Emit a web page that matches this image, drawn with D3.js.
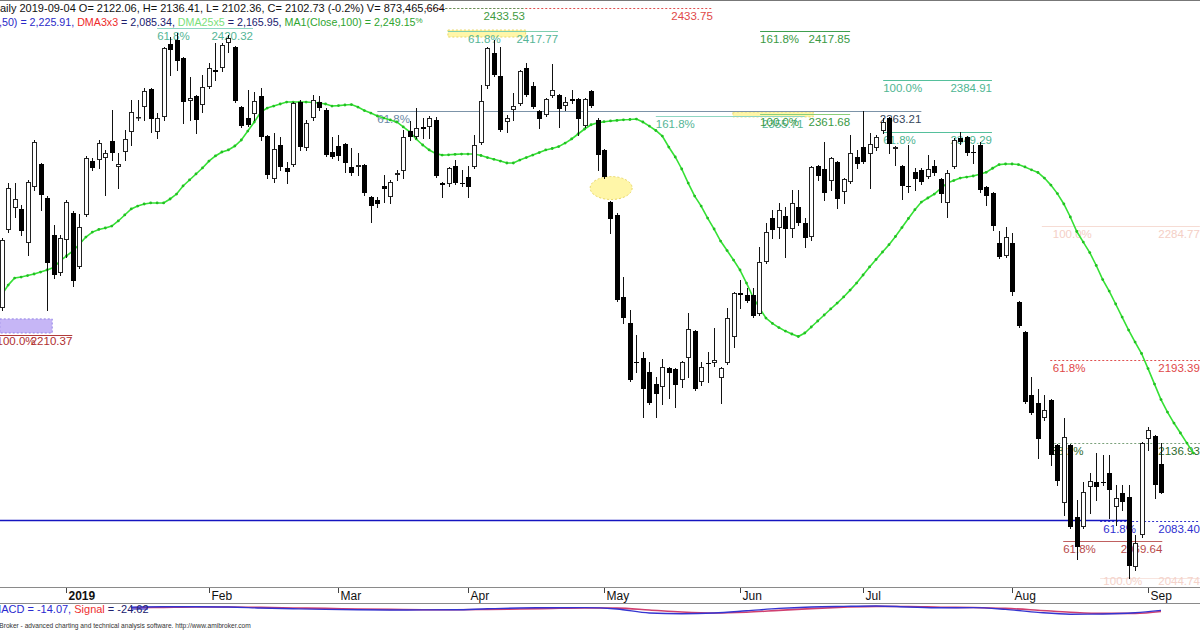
<!DOCTYPE html>
<html><head><meta charset="utf-8">
<script src="https://cdn.jsdelivr.net/npm/d3@7"></script>
<style>
html,body{margin:0;padding:0;background:#fff;overflow:hidden;}
svg{display:block;font-family:"Liberation Sans",Arial,sans-serif;}
</style></head><body>
<svg id="c" width="1200" height="630"></svg>
<script>
// ---------------- DATA ----------------
const opens=[2228.8,2282.1,2297.1,2296.5,2273.3,2311.5,2327.2,2304.0,2278.7,2252.8,
2275.3,2293.7,2256.9,2292.4,2329.2,2329.9,2331.3,2342.9,2325.2,2335.4,
2349.1,2358.6,2366.1,2378.4,2349.1,2359.3,2409.2,2411.9,2399.6,2370.2,
2373.6,2367.5,2379.8,2391.4,2392.8,2409.8,2407.1,2366.1,2358.6,2361.3,
2373.6,2346.3,2317.0,2340.2,2324.5,2326.5,2369.5,2338.1,2358.6,2369.5,
2364.1,2335.4,2339.5,2340.9,2325.2,2325.2,2326.5,2304.7,2302.6,2312.2,
2304.7,2319.7,2322.4,2349.7,2345.6,2352.5,2352.5,2357.3,2314.2,2313.5,
2325.8,2314.2,2318.3,2325.2,2341.5,2380.5,2403.0,2387.3,2355.9,2364.1,
2368.2,2392.8,2380.5,2363.4,2360.7,2373.6,2374.3,2366.8,2371.6,2371.6,
2353.1,2377.0,2357.3,2336.8,2301.2,2292.4,2236.4,2218.6,2192.0,2194.7,
2185.1,2176.9,2174.9,2187.9,2187.2,2179.7,2194.7,2213.1,2178.3,2191.3,
2191.3,2181.0,2191.3,2209.0,2239.1,2237.7,2237.7,2224.7,2260.3,2290.3,
2283.5,2291.7,2282.8,2297.8,2286.9,2277.3,2325.8,2323.8,2315.6,2328.6,
2308.1,2314.9,2332.0,2338.8,2334.0,2338.1,2349.7,2358.6,2337.4,2325.8,
2312.2,2321.7,2323.1,2318.3,2325.8,2317.0,2300.6,2325.2,2345.0,2345.6,
2335.4,2340.2,2311.5,2307.4,2273.2,2264.4,2273.2,2232.9,2212.5,2169.4,
2164.0,2153.7,2166.0,2135.3,2095.7,2135.3,2086.1,2079.3,2106.6,2110.0,
2110.0,2116.2,2092.9,2102.5,2099.8,2052.0,2073.8,2139.4,2141.4,2122.06];
const highs=[2276.6,2314.3,2314.3,2299.2,2316.3,2343.6,2327.9,2305.3,2285.5,2278.7,
2302.6,2295.1,2293.0,2332.7,2331.3,2343.6,2336.8,2364.1,2334.7,2350.4,
2370.9,2370.9,2379.1,2379.1,2362.0,2407.1,2413.9,2416.7,2400.3,2386.6,
2374.3,2388.0,2396.2,2409.8,2409.8,2415.3,2407.8,2366.8,2377.7,2376.4,
2379.1,2347.0,2348.4,2345.6,2328.6,2369.5,2370.9,2357.3,2374.3,2373.6,
2365.4,2345.6,2347.0,2341.5,2338.1,2334.7,2327.2,2305.3,2304.7,2319.7,
2316.3,2323.1,2350.4,2356.6,2365.4,2358.6,2360.0,2359.3,2314.9,2325.2,
2329.9,2323.1,2325.8,2347.0,2381.1,2407.1,2411.9,2407.1,2360.7,2375.7,
2391.4,2396.2,2383.2,2364.1,2372.3,2395.5,2375.0,2373.0,2377.7,2372.3,
2372.3,2377.7,2358.6,2337.4,2301.9,2293.7,2250.0,2227.5,2210.4,2198.8,
2192.0,2181.7,2194.0,2188.5,2187.9,2192.6,2225.4,2213.8,2192.0,2198.8,
2215.2,2188.5,2228.8,2239.8,2248.0,2242.5,2242.5,2270.5,2286.9,2295.8,
2300.6,2297.8,2309.4,2309.4,2290.3,2325.8,2326.5,2342.2,2332.0,2329.2,
2317.6,2347.0,2336.8,2363.2,2348.4,2347.0,2358.6,2359.3,2339.5,2326.5,
2340.2,2324.5,2324.5,2333.3,2329.9,2317.6,2323.1,2345.0,2349.3,2346.3,
2340.2,2342.2,2312.2,2308.1,2281.4,2284.2,2280.1,2233.6,2213.1,2181.7,
2173.5,2169.4,2166.7,2136.0,2153.7,2136.0,2097.7,2110.0,2116.2,2129.8,
2128.5,2128.5,2107.9,2107.9,2107.9,2073.8,2137.3,2147.6,2142.1,2136.41];
const lows=[2227.5,2280.7,2291.0,2278.7,2265.1,2309.4,2295.8,2227.5,2249.3,2251.4,
2263.7,2243.9,2256.2,2291.7,2323.1,2324.5,2306.0,2329.9,2310.8,2329.9,
2340.2,2357.3,2357.3,2349.1,2345.0,2357.3,2388.0,2391.4,2355.2,2357.3,
2348.4,2362.7,2379.1,2384.6,2390.7,2403.7,2369.5,2352.5,2353.1,2357.3,
2343.6,2317.6,2314.9,2323.1,2314.2,2325.8,2336.8,2336.8,2357.3,2364.1,
2332.7,2331.3,2329.9,2321.7,2319.7,2319.7,2306.0,2287.6,2297.8,2301.2,
2300.6,2316.3,2317.6,2343.6,2345.0,2345.0,2345.0,2318.3,2304.7,2312.2,
2313.5,2312.2,2304.7,2324.5,2340.9,2379.1,2387.3,2349.7,2349.1,2357.3,
2367.5,2373.6,2365.4,2351.8,2360.0,2373.0,2352.5,2364.1,2368.9,2347.0,
2352.5,2366.1,2323.1,2317.6,2280.1,2233.6,2218.6,2179.0,2185.1,2154.4,
2163.3,2154.4,2163.3,2167.4,2161.2,2174.9,2181.7,2172.9,2176.2,2178.3,
2189.2,2164.0,2190.6,2202.2,2228.8,2232.9,2222.7,2224.1,2259.6,2276.6,
2276.6,2263.7,2277.3,2285.5,2270.5,2275.3,2316.3,2302.6,2309.4,2297.1,
2300.6,2314.2,2324.5,2327.9,2310.8,2336.8,2348.4,2334.7,2326.5,2303.3,
2308.1,2309.4,2313.5,2317.6,2319.7,2301.2,2291.0,2324.5,2340.9,2333.3,
2327.9,2308.1,2299.2,2282.1,2263.0,2263.7,2237.7,2215.9,2164.0,2156.5,
2126.4,2152.4,2121.6,2108.0,2087.5,2078.6,2057.4,2078.6,2088.8,2097.7,
2108.0,2085.4,2080.6,2090.9,2044.7,2049.9,2072.5,2131.9,2099.1,2102.36];
const closes=[2275.3,2310.8,2303.3,2281.4,2314.9,2342.2,2306.0,2259.6,2251.4,2276.6,
2301.2,2247.3,2284.2,2331.3,2324.5,2341.5,2334.7,2334.7,2327.2,2344.3,
2362.7,2359.3,2377.0,2357.9,2358.6,2406.4,2405.1,2397.5,2369.5,2372.3,
2357.3,2379.8,2392.8,2390.0,2408.5,2413.2,2370.2,2353.1,2353.8,2370.2,
2345.6,2319.7,2337.4,2325.2,2321.7,2368.9,2338.8,2355.2,2370.9,2365.4,
2333.3,2332.0,2332.7,2327.9,2321.0,2326.5,2307.4,2298.5,2299.9,2310.1,
2314.9,2321.0,2345.6,2345.6,2351.8,2351.1,2358.6,2319.0,2312.8,2324.5,
2314.2,2313.5,2311.5,2340.2,2370.2,2406.4,2388.0,2350.4,2358.6,2366.8,
2390.7,2374.3,2366.1,2357.9,2371.6,2377.7,2364.8,2369.5,2370.2,2357.9,
2371.6,2366.8,2333.3,2318.3,2289.6,2234.3,2222.0,2179.7,2191.7,2173.5,
2164.0,2170.1,2188.5,2184.4,2176.2,2192.0,2214.5,2173.5,2188.5,2190.6,
2193.4,2187.9,2222.0,2239.1,2237.7,2233.6,2223.4,2260.3,2280.8,2282.1,
2295.8,2282.8,2300.6,2286.9,2276.6,2325.2,2319.0,2307.4,2331.3,2303.3,
2317.0,2334.7,2327.2,2328.6,2340.9,2345.6,2355.9,2340.9,2338.8,2312.2,
2311.8,2317.0,2314.9,2323.8,2321.0,2306.7,2321.0,2343.6,2342.2,2334.7,
2335.0,2309.4,2305.3,2284.9,2263.7,2277.3,2239.8,2216.6,2164.6,2157.2,
2139.4,2159.2,2128.5,2110.7,2140.7,2079.3,2065.6,2103.2,2110.7,2106.6,
2109.3,2104.6,2099.1,2096.4,2052.6,2068.3,2136.6,2145.6,2107.9,2102.73];
// DMA25x5 (displaced 5 bars forward, so 185 points)
const dma25x5=[2237.7,2244.5,2249.3,2250.0,2251.0,2252.1,2253.4,2254.8,2256.5,2260.9,
2264.4,2267.8,2272.5,2277.3,2280.7,2282.5,2283.5,2284.8,2288.3,2292.4,
2296.5,2298.5,2299.9,2300.6,2300.6,2300.6,2303.3,2306.7,2312.2,2316.3,
2320.4,2324.5,2329.2,2332.7,2335.4,2336.8,2339.5,2343.6,2349.7,2355.9,
2362.7,2365.4,2366.8,2368.2,2369.5,2369.5,2369.5,2369.5,2369.2,2368.9,
2368.2,2366.8,2367.1,2367.5,2367.8,2366.1,2363.7,2362.0,2360.0,2358.6,
2357.3,2355.9,2352.5,2349.1,2344.3,2340.2,2336.8,2334.4,2333.3,2333.5,
2333.8,2334.0,2334.0,2334.0,2333.0,2331.6,2330.4,2329.2,2327.9,2327.9,
2329.9,2331.6,2333.3,2335.0,2336.8,2337.8,2339.1,2341.5,2344.3,2347.7,
2351.1,2354.0,2355.3,2356.1,2356.6,2357.0,2357.4,2357.6,2357.9,2355.9,
2353.1,2350.1,2346.3,2338.8,2332.0,2323.8,2314.2,2305.3,2298.5,2290.3,
2282.8,2274.6,2268.1,2261.6,2254.8,2245.9,2236.4,2228.8,2222.0,2218.3,
2215.5,2213.1,2211.1,2209.4,2211.8,2215.9,2220.0,2224.1,2228.2,2232.2,
2236.4,2241.1,2245.9,2251.4,2256.9,2262.0,2267.1,2272.1,2277.7,2283.8,
2290.0,2296.0,2301.2,2304.0,2306.7,2310.5,2314.2,2315.9,2317.6,2318.3,
2319.0,2320.2,2321.5,2324.3,2326.8,2327.2,2327.2,2326.8,2325.2,2323.2,
2321.4,2317.6,2312.8,2307.0,2299.9,2291.0,2281.1,2273.9,2266.7,2257.9,
2248.3,2240.4,2231.6,2222.7,2213.8,2205.6,2197.8,2187.5,2176.9,2166.3,
2157.8,2150.3,2143.5,2136.6,2129.8];
// month ticks (bar index of first trading day shown)
const tickIdx=[10,32,52,72,93,114,133,156,177];
const tickLabels=["2019","Feb","Mar","Apr","May","Jun","Jul","Aug","Sep"];
// MACD pane (sampled)
const macdIdx=[20,25,30,35,40,45,50,55,60,65,70,75,80,85,90,95,100,105,110,115,120,125,130,135,140,145,150,155,160,165,170,175,179];
const macdVals=[18,22,22,20,10,2,-4,-8,-10,-9,-8,2,10,13,14,0,-40,-48,-40,-18,6,20,26,30,20,12,14,-4,-34,-52,-50,-38,-14.07];
const signalVals=[12,16,20,20,16,10,6,0,-4,-7,-8,-5,0,6,10,9,-10,-30,-40,-32,-14,4,18,26,25,18,15,6,-12,-32,-44,-44,-24.62];
// Fibonacci / drawing tool levels
const levelPrices=[2433.75,2433.53,2420.32,2417.77,2417.85,2384.91,2363.21,2360.2,2361.2,2349.29,2284.77,2193.39,2136.93,2083.40,2069.64,2044.74,2210.37];
const levelFrom=[65.4,68.5,24.0,68.9,117.1,136.1,58.0,101.0,117.1,136.1,160.6,161.9,161.9,169.6,163.9,169.6,-0.3];
const levelTo=[109.8,80.8,38.8,85.9,131.0,152.9,142.0,124.0,131.0,152.9,185,185,185,185,179.2,185,10.9];
const levelPct=["","","61.8%","61.8%","161.8%","100.0%","61.8%","161.8%","100.0%","61.8%","100.0%","61.8%","38.2%","61.8%","61.8%","100.0%","100.0%"];
const levelText=["2433.75","2433.53","2420.32","2417.77","2417.85","2384.91","2363.21","2355.71","2361.68","2349.29","2284.77","2193.39","2136.93","2083.40","2069.64","2044.74","2210.37"];
const supportPrice=2083.9;

// ---------------- DRAW ----------------
const svg=d3.select("#c");
const x=d3.scaleLinear().domain([0,179]).range([1.7,1161]);
const y=d3.scaleLinear().domain([2439.21,2037.64]).range([0,588]);
const price=svg.append("g");

const lvlStyle=[
 {line:"#e05050",dash:"2,2",tc:"#e04848"},
 {line:"#5a9a5a",dash:"2,2",tc:"#3f9a3f"},
 {line:"#8fd6c2",dash:null,tc:"#55b596"},
 {line:"#7fcfb0",dash:null,tc:"#55b596",pctX:72.0},
 {line:"#3f9f4f",dash:null,tc:"#3a9a44"},
 {line:"#55c09c",dash:null,tc:"#4fb592"},
 {line:"#7c93a8",dash:null,tc:"#6a88a6",tc2:"#34465a"},
 {line:"#8fd6c2",dash:null,tc:"#55b596",valX:123.8},
 {line:"#8ccf7a",dash:null,tc:"#3a9a44"},
 {line:"#55c09c",dash:null,tc:"#4fb592"},
 {line:"#f6dcd4",dash:null,tc:"#f4cfc6",pctX:162.3},
 {line:"#e05050",dash:"2,2",tc:"#e04848",pctX:162.3},
 {line:"#7aa07a",dash:"2,2",tc:"#2e6b2e",pctX:162.0},
 {line:"#3333cc",dash:"2,2",tc:"#2f2fd0",pctX:170.1},
 {line:"#c06060",dash:null,tc:"#b84a4a"},
 {line:"#f8e4de",dash:null,tc:"#f4d2ca",pctX:170.1,dy:6},
 {line:"#b03a3a",dash:null,tc:"#b03030",pctX:-0.8,dy:9}
];

// yellow bands / shapes
price.append("rect").attr("x",x(68.9)).attr("y",y(2418.7)).attr("width",x(80.9)-x(68.9)).attr("height",7)
 .attr("fill","#fff6a8").attr("stroke","#e8d76a").attr("stroke-dasharray","2,2");
price.append("rect").attr("x",x(112.9)).attr("y",y(2362.8)).attr("width",x(125.3)-x(112.9)).attr("height",5)
 .attr("fill","#fff6a8").attr("stroke","#e8d76a").attr("stroke-dasharray","2,2");
price.append("ellipse").attr("cx",x(94.1)).attr("cy",y(2310.8)).attr("rx",21).attr("ry",11.5)
 .attr("fill","#fff6a8").attr("stroke","#e8d76a").attr("stroke-dasharray","2,2");
price.append("rect").attr("x",x(-0.3)).attr("y",y(2221.4)).attr("width",x(7.8)-x(-0.3)).attr("height",y(2211.8)-y(2221.4))
 .attr("fill","#c6b6f6").attr("stroke","#9484e6").attr("stroke-dasharray","2,2");

// support line (full width)
price.append("line").attr("x1",0).attr("x2",x(174.2)).attr("y1",Math.round(y(supportPrice))+0.5).attr("y2",Math.round(y(supportPrice))+0.5)
 .attr("stroke","#1414c0").attr("stroke-width",1.3);

levelPrices.forEach((p,i)=>{
  const s=lvlStyle[i];
  const ly=Math.round(y(p))+0.5;
  const dy=s.dy!=null?s.dy:11;
  price.append("line").attr("x1",x(levelFrom[i])).attr("x2",x(levelTo[i])).attr("y1",ly).attr("y2",ly)
    .attr("stroke",s.line).attr("stroke-width",1).attr("stroke-dasharray",s.dash);
  if(levelPct[i]){
    price.append("text").attr("x",x(s.pctX!=null?s.pctX:levelFrom[i])).attr("y",ly+dy)
      .attr("font-size",11.5).attr("fill",s.tc).text(levelPct[i]);
  }
  price.append("text").attr("x",x(s.valX!=null?s.valX:levelTo[i])).attr("y",ly+dy)
    .attr("text-anchor","end").attr("font-size",11.5).attr("fill",s.tc2||s.tc).text(levelText[i]);
});

// moving average line (behind candles)
const maLine=d3.line().x((d,i)=>x(i)).y(d=>y(d));
price.append("path").attr("d",maLine(dma25x5)).attr("fill","none").attr("stroke","#35e035").attr("stroke-width",1.6);
price.append("g").selectAll("circle").data(dma25x5).join("circle")
 .attr("cx",(d,i)=>x(i)).attr("cy",d=>y(d)).attr("r",1.4).attr("fill","#22c022");

// candles
const cg=price.append("g");
closes.forEach((c,i)=>{
  const o=opens[i],h=highs[i],l=lows[i];
  const cx=Math.round(x(i));
  const up=c>=o;
  cg.append("line").attr("x1",cx+0.5).attr("x2",cx+0.5).attr("y1",Math.round(y(h))).attr("y2",Math.round(y(l))+1)
    .attr("stroke","#111").attr("stroke-width",1);
  let t=Math.round(y(Math.max(o,c))), b=Math.round(y(Math.min(o,c)));
  if(b-t<1) b=t+1;
  if(up){
    cg.append("rect").attr("x",cx-1.5).attr("y",t+0.5).attr("width",4).attr("height",Math.max(b-t-1,0.5))
      .attr("fill","#fff").attr("stroke","#222").attr("stroke-width",1);
  } else {
    cg.append("rect").attr("x",cx-2).attr("y",t).attr("width",5).attr("height",b-t).attr("fill","#000");
  }
});

// border top
svg.append("line").attr("x1",0).attr("x2",1200).attr("y1",0.5).attr("y2",0.5).attr("stroke","#777");

// header texts
svg.append("text").attr("x",-8).attr("y",12).attr("font-size",11).attr("fill","#111")
 .text("Daily 2019-09-04 O= 2122.06, H= 2136.41, L= 2102.36, C= 2102.73 (-0.2%) V= 873,465,664");
const h2=svg.append("text").attr("x",-1).attr("y",26).attr("font-size",10.7);
h2.append("tspan").attr("fill","#2a2ac8").text(",50) = 2,225.91, ");
h2.append("tspan").attr("fill","#ee2a2a").text("DMA3x3");
h2.append("tspan").attr("fill","#20206e").text(" = 2,085.34, ");
h2.append("tspan").attr("fill","#79e079").text("DMA25x5");
h2.append("tspan").attr("fill","#20206e").text(" = 2,165.95, ");
h2.append("tspan").attr("fill","#2fa52f").text("MA1(Close,100) = 2,249.15");
h2.append("tspan").attr("fill","#2fa52f").attr("font-size",8).attr("dy",-3).text("%");

// time axis
const ax=svg.append("g");
ax.append("rect").attr("x",0).attr("y",588).attr("width",1200).attr("height",15).attr("fill","#fff");
ax.append("line").attr("x1",0).attr("x2",1200).attr("y1",587.5).attr("y2",587.5).attr("stroke","#8a8a8a");
ax.append("line").attr("x1",0).attr("x2",1200).attr("y1",603.5).attr("y2",603.5).attr("stroke","#8a8a8a");
tickIdx.forEach((t,i)=>{
  const tx=Math.round(x(t))+0.5;
  ax.append("line").attr("x1",tx).attr("x2",tx).attr("y1",588).attr("y2",593).attr("stroke","#444");
  ax.append("text").attr("x",tx+2).attr("y",600).attr("font-size",12)
    .attr("font-weight",i===0?"bold":"normal").attr("fill","#111").text(tickLabels[i]);
});

// MACD pane
const my=d3.scaleLinear().domain([60,-60]).range([603,615]);
const mline=d3.line().x((d,i)=>x(macdIdx[i])).y(d=>my(d)).curve(d3.curveMonotoneX);
svg.append("path").attr("d",mline(signalVals)).attr("fill","none").attr("stroke","#d04070").attr("stroke-width",1.6);
svg.append("path").attr("d",mline(macdVals)).attr("fill","none").attr("stroke","#3535d0").attr("stroke-width",1.4);
svg.append("line").attr("x1",148).attr("x2",x(20)).attr("y1",my(0)).attr("y2",my(0)).attr("stroke","#3535d0").attr("stroke-width",1.2);
const mt=svg.append("text").attr("x",-8).attr("y",613).attr("font-size",11);
mt.append("tspan").attr("fill","#2a2ad0").text("MACD = -14.07, ");
mt.append("tspan").attr("fill","#ee3030").text("Signal");
mt.append("tspan").attr("fill","#20206e").text(" = -24.62");

svg.append("text").attr("x",-12).attr("y",628).attr("font-size",6.6).attr("fill","#333")
 .text("AmiBroker - advanced charting and technical analysis software. http://www.amibroker.com");
</script>
</body></html>
